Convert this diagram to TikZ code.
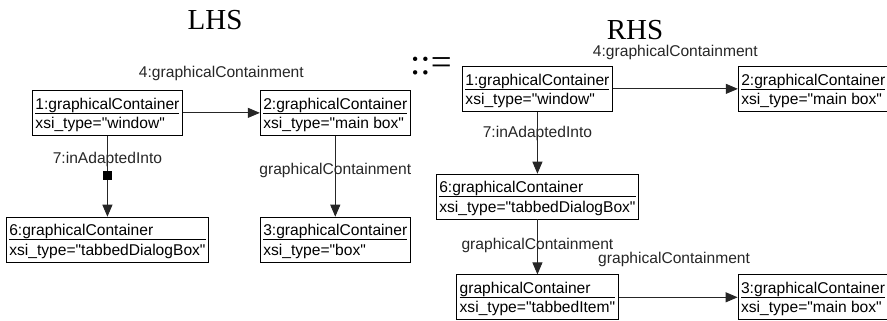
\documentclass[tikz,border=0pt]{standalone}
\usepackage{fontspec}
\setmainfont{Liberation Sans}[Ligatures=TeXOff]
\newfontfamily\titlefont{Liberation Serif}
\usetikzlibrary{arrows.meta,positioning}
\setlength{\arrayrulewidth}{0.8pt}
\newcommand{\objtext}[2]{\begin{tabular}{@{}l@{}}\rule{0pt}{17.4pt}#1\\[-2pt]\hline\rule{0pt}{15pt}#2\end{tabular}}

\begin{document}
\begin{tikzpicture}[x=1pt, y=1pt, font=\fontsize{15.6pt}{18.7pt}\selectfont]
  \tikzstyle{obj}=[rectangle,draw,line width=0.9pt,inner xsep=3pt,inner ysep=1.2pt]
  \tikzstyle{lbl}=[inner sep=0pt,text=black!85]
  \tikzstyle{link}=[draw=black!85,line width=0.9pt,-{Triangle[length=12pt,width=10pt]}]
  \tikzstyle{sqmark}=[rectangle,fill=black,minimum size=9pt,inner sep=0pt]
  \tikzstyle{title}=[font=\titlefont\fontsize{29pt}{34pt}\selectfont]
  \useasboundingbox (0,0) rectangle (887,-321);

  % left hand side
  \node[title] (lhs) at (215,-20) {LHS};
  \node[obj,anchor=north west] (L1) at (32,-90) {\objtext{1:graphicalContainer}{xsi\_type="window"}};
  \node[obj,right=77pt of L1] (L2) {\objtext{2:graphicalContainer}{xsi\_type="main box"}};
  \node[obj,below=81pt of L1] (L6) {\objtext{6:graphicalContainer}{xsi\_type="tabbedDialogBox"}};
  \node[obj,below=81pt of L2] (L3) {\objtext{3:graphicalContainer}{xsi\_type="box"}};
  \draw[link] (L1) -- node[lbl,above=32pt] (l4) {4:graphicalContainment} (L2);
  \draw[link] (L1) -- node[lbl,pos=0.29] (l7) {7:inAdaptedInto} node[sqmark,pos=0.49] (m7) {} (L6);
  \draw[link] (L2) -- node[lbl,pos=0.43] (l23) {graphicalContainment} (L3);

  \node[font=\titlefont\fontsize{37pt}{40pt}\selectfont,anchor=base west,inner sep=0pt] (def) at (410,-75) {::=};

  % right hand side
  \node[title] (rhs) at (635,-29.7) {RHS};
  \node[obj,anchor=north west] (R1) at (462,-66) {\objtext{1:graphicalContainer}{xsi\_type="window"}};
  \node[obj,right=125pt of R1] (R2) {\objtext{2:graphicalContainer}{xsi\_type="main box"}};
  \node[obj,below=62pt of R1] (R6) {\objtext{6:graphicalContainer}{xsi\_type="tabbedDialogBox"}};
  \node[obj,below=55pt of R6] (R7) {\objtext{graphicalContainer}{xsi\_type="tabbedItem"}};
  \node[obj,right=119pt of R7] (R3) {\objtext{3:graphicalContainer}{xsi\_type="main box"}};
  \draw[link] (R1) -- node[lbl,above=28.5pt] (r4) {4:graphicalContainment} (R2);
  \draw[link] (R1) -- node[lbl,pos=0.35] (r7) {7:inAdaptedInto} (R6);
  \draw[link] (R6) -- node[lbl,pos=0.48] (r67) {graphicalContainment} (R7);
  \draw[link] (R7) -- node[lbl,above=30pt,xshift=-4pt] (r73) {graphicalContainment} (R3);
\end{tikzpicture}
\end{document}
